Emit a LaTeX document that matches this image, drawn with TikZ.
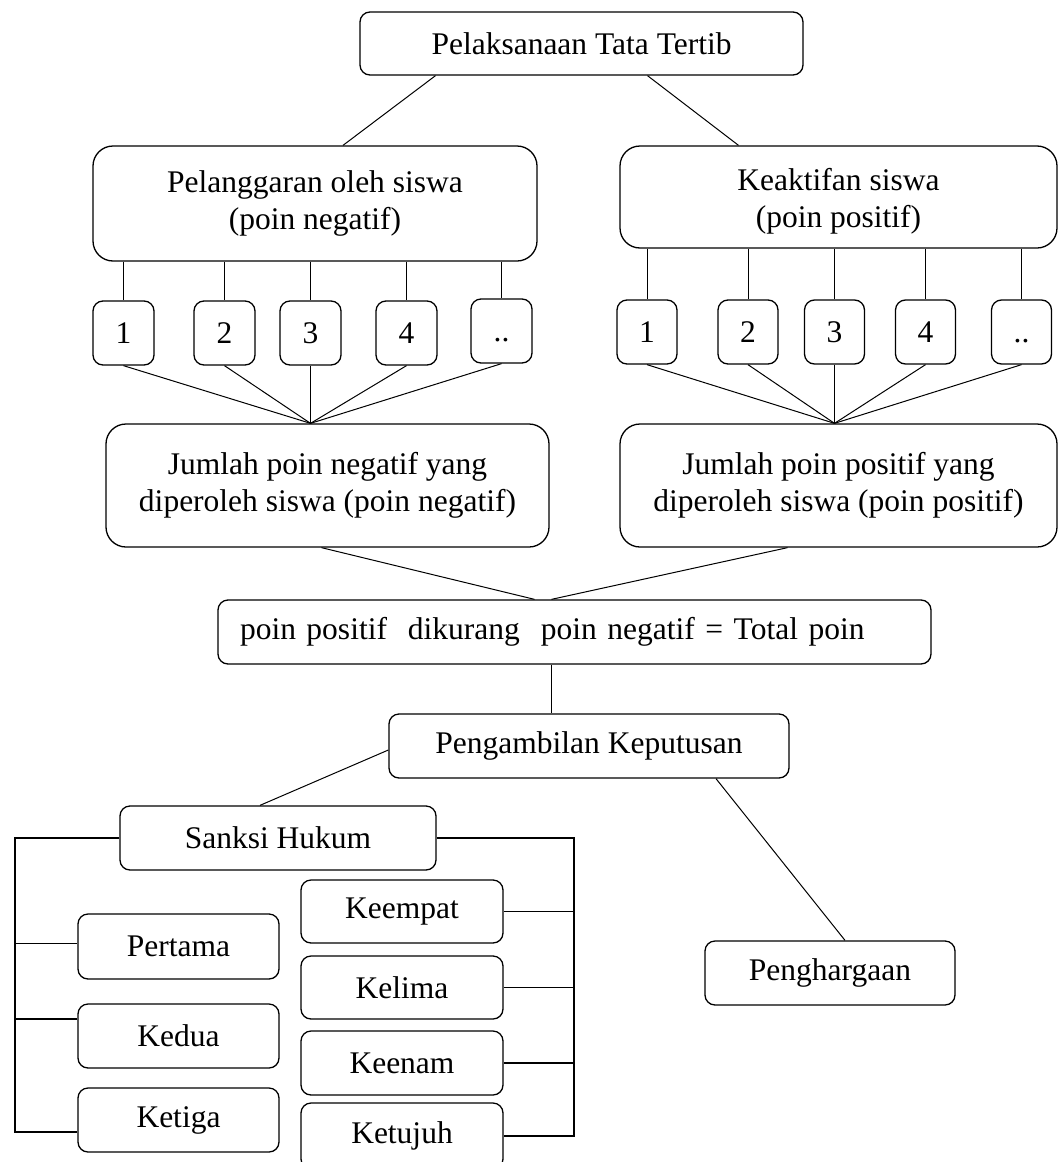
\documentclass[tikz,border=0pt]{standalone}
\usepackage{fontspec}
\setmainfont{Liberation Serif}
\usetikzlibrary{calc}
\begin{document}
\begin{tikzpicture}[x=1pt,y=-1pt,
  box/.style={draw, line width=1.3pt, rounded corners=10pt, inner sep=0pt, align=center, font=\fontsize{31.5}{37}\selectfont},
  bigbox/.style={box, rounded corners=20pt},
  txt/.style={inner sep=0pt, align=center, font=\fontsize{31.5}{37}\selectfont},
  ln/.style={line width=1pt}]
\useasboundingbox (0,0) rectangle (1059,1162);
\begin{scope}
\clip (0,0) rectangle (1059,1162);
% top
\node[box, minimum width=443pt, minimum height=63pt] (top) at (581.5,43.5) {Pelaksanaan Tata Tertib};
\node[bigbox, minimum width=444pt, minimum height=115pt] (neg) at (315,203.5) {Pelanggaran oleh siswa\\(poin negatif)};
\node[bigbox, minimum width=437pt, minimum height=102pt] (pos) at (838.5,197) {};
\node[txt] (posT) at ($(pos.center)+(0,4)$) {Keaktifan siswa\\(poin positif)};
% small boxes
\foreach \n/\x/\t in {L1/123.5/1, L2/224.5/2, L3/310.5/3, L4/406.5/4}
  \node[box, minimum width=61pt, minimum height=64pt] (\n) at (\x,333) {\t};
\node[box, minimum width=61pt, minimum height=64pt] (L5) at (501.5,331) {\vphantom{1}..};
\foreach \n/\x/\t in {R1/647/1, R2/748/2, R3/834.5/3, R4/925.5/4, R5/1021.5/..}
  \node[box, minimum width=60pt, minimum height=64pt] (\n) at (\x,332) {\vphantom{1}\t};
% sums
\node[bigbox, minimum width=443pt, minimum height=123pt] (negsum) at (327.5,485.5) {Jumlah poin negatif yang\\diperoleh siswa (poin negatif)};
\node[bigbox, minimum width=437pt, minimum height=123pt] (possum) at (838.5,485.5) {Jumlah poin positif yang\\diperoleh siswa (poin positif)};
% total
\node[box, minimum height=64pt, text width=669pt, inner xsep=22pt, align=left] (total) at (574.5,632) {poin positif\ \ dikurang\ \ poin negatif = Total poin};
% decision
\node[box, minimum width=400pt, minimum height=64pt] (dec) at (589,746) {Pengambilan Keputusan};
\node[box, minimum width=316pt, minimum height=64pt] (sanksi) at (278,838) {Sanksi Hukum};
\node[box, minimum width=250pt, minimum height=64pt] (award) at (830,973) {Penghargaan};
% sanctions
\node[box, minimum width=201pt, minimum height=65pt] (k1) at (178.5,946.5) {Pertama};
\node[box, minimum width=201pt, minimum height=64pt] (k2) at (178.5,1036) {Kedua};
\node[box, minimum width=201pt, minimum height=64pt] (k3) at (178.5,1120) {Ketiga};
\node[box, minimum width=202pt, minimum height=63pt] (k4) at (402,911.5) {Keempat};
\node[box, minimum width=202pt, minimum height=63pt] (k5) at (402,987.5) {Kelima};
\node[box, minimum width=202pt, minimum height=64pt] (k6) at (402,1063) {Keenam};
\node[box, minimum width=202pt, minimum height=66pt] (k7) at (402,1136) {Ketujuh};

% connectors top
\draw[ln] ($(top.south)+(-146,0)$) -- ($(neg.north)+(28,0)$);
\draw[ln] ($(top.south)+(66,0)$) -- ($(pos.north)+(-100,0)$);
\foreach \n in {L1,L2,L3,L4,L5}
  \draw[ln] (neg.south -| \n.north) -- (\n.north);
\foreach \n in {R1,R2,R3,R4,R5}
  \draw[ln] (pos.south -| \n.north) -- (\n.north);
\coordinate (apexL) at (L3.south |- negsum.north);
\coordinate (apexR) at (R3.south |- possum.north);
\foreach \n in {L1,L2,L3,L4,L5}
  \draw[ln] (\n.south) -- (apexL);
\foreach \n in {R1,R2,R3,R4,R5}
  \draw[ln] (\n.south) -- (apexR);
\draw[ln] ($(negsum.south)+(-6,0)$) -- ($(total.north)+(-40,0)$);
\draw[ln] ($(possum.south)+(-51,0)$) -- ($(total.north)+(-23,0)$);
\coordinate (jx) at (551,0);
\draw[ln] (total.south -| jx) -- (dec.north -| jx);
\draw[ln] ($(dec.west)+(0,4)$) -- ($(sanksi.north)+(-18,0)$);
\draw[ln] ($(dec.south)+(127,0)$) -- ($(award.north)+(15,0)$);
% brackets
\coordinate (lbx) at (15,0);
\coordinate (rbx) at (574,0);
\coordinate (t3) at ($(k3.west)+(0,12)$);
\coordinate (t2) at ($(k2.west)+(0,-17)$);
\coordinate (t1) at ($(k1.west)+(0,-3)$);
\draw[ln, line width=1.3pt] (sanksi.west) -| (lbx |- t3) -- (t3);
\draw[ln, line width=1.3pt] (lbx |- t1) -- (t1);
\draw[ln, line width=1.3pt] (lbx |- t2) -- (t2);
\draw[ln, line width=1.3pt] (sanksi.east) -| (rbx |- k7.east) -- (k7.east);
\foreach \n in {k4,k5,k6}
  \draw[ln, line width=1.3pt] (rbx |- \n.east) -- (\n.east);
\end{scope}
\end{tikzpicture}
\end{document}
